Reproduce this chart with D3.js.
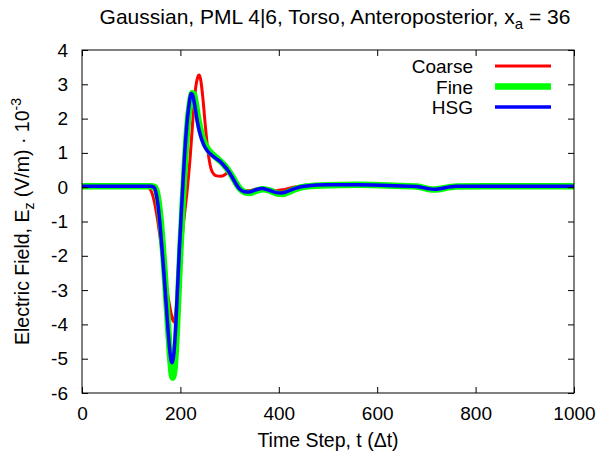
<!DOCTYPE html>
<html>
<head>
<meta charset="utf-8">
<script src="https://cdn.jsdelivr.net/npm/d3@7"></script>
<style>
  body { margin: 0; background: #fff; }
  svg { display: block; }
  text { font-family: "Liberation Sans", Arial, sans-serif; fill: #000; }
</style>
</head>
<body>
<svg width="600" height="456"></svg>
<script>
// time steps (shared by all series) and the three field traces, x 10^-3 V/m
var coarseT = [0, 100, 130, 138, 145, 152, 160, 168, 175, 180, 184, 187, 190, 195, 200, 206, 213, 220, 226, 231, 235, 238, 241, 245, 250, 256, 262, 268, 274, 282, 290, 296, 302, 308, 315, 325, 340, 355, 368, 380, 395, 410, 430, 455, 500, 560, 620, 680, 715, 760, 820, 900, 1000];
var coarseV = [0.02, 0.02, 0.02, -0.05, -0.3, -0.8, -1.6, -2.5, -3.2, -3.6, -3.85, -3.93, -3.7, -3.0, -2.1, -1.1, -0.2, 0.9, 2.1, 2.9, 3.2, 3.27, 3.15, 2.7, 1.9, 1.05, 0.55, 0.38, 0.33, 0.32, 0.36, 0.42, 0.35, 0.2, 0.02, -0.08, -0.1, -0.05, -0.03, -0.07, -0.1, -0.07, 0.0, 0.04, 0.07, 0.07, 0.05, 0.03, -0.05, 0.03, 0.03, 0.03, 0.03];

var fineT = [0, 100, 140, 148, 153, 158, 163, 168, 172, 176, 180, 184, 188, 192, 196, 200, 205, 210, 215, 220, 224, 227, 231, 236, 242, 250, 258, 266, 274, 282, 290, 298, 306, 314, 322, 332, 342, 355, 368, 382, 395, 407, 420, 435, 455, 500, 560, 620, 680, 715, 760, 820, 900, 1000];
var fineV = [0.03, 0.03, 0.03, 0.0, -0.2, -0.7, -1.5, -2.5, -3.4, -4.3, -5.1, -5.55, -5.3, -4.4, -3.1, -1.8, -0.4, 0.9, 1.9, 2.5, 2.74, 2.72, 2.45, 2.0, 1.6, 1.25, 1.07, 0.95, 0.85, 0.75, 0.63, 0.48, 0.3, 0.1, -0.06, -0.15, -0.17, -0.1, -0.06, -0.1, -0.18, -0.2, -0.14, -0.05, 0.02, 0.06, 0.07, 0.05, 0.02, -0.07, 0.02, 0.03, 0.03, 0.03];

var hsgT = [0, 100, 140, 146, 151, 156, 161, 166, 170, 174, 178, 181, 183, 186, 190, 194, 198, 203, 208, 213, 218, 222, 225, 229, 234, 240, 248, 256, 264, 272, 280, 288, 296, 304, 312, 320, 330, 340, 352, 366, 380, 393, 405, 418, 432, 452, 500, 560, 620, 680, 715, 760, 820, 900, 1000];
var hsgV = [0.03, 0.03, 0.03, 0.0, -0.2, -0.7, -1.5, -2.4, -3.2, -4.0, -4.7, -5.05, -5.12, -4.95, -4.2, -3.0, -1.8, -0.45, 0.8, 1.8, 2.45, 2.73, 2.68, 2.4, 1.95, 1.55, 1.22, 1.04, 0.93, 0.84, 0.76, 0.64, 0.5, 0.32, 0.12, -0.05, -0.13, -0.14, -0.08, -0.04, -0.09, -0.15, -0.17, -0.12, -0.04, 0.03, 0.07, 0.07, 0.05, 0.02, -0.06, 0.03, 0.03, 0.03, 0.03];

var xTicks = [0, 200, 400, 600, 800, 1000];
var yTicks = [-6, -5, -4, -3, -2, -1, 0, 1, 2, 3, 4];

var series = [
  { name: "Coarse", t: coarseT, v: coarseV, color: "#ff0000", width: 3 },
  { name: "Fine", t: fineT, v: fineV, color: "#00ff00", width: 6.5 },
  { name: "HSG", t: hsgT, v: hsgV, color: "#0000ff", width: 3.5 }
];

var margin = { left: 82, right: 26, top: 50, bottom: 63 };
var width = 600 - margin.left - margin.right;
var height = 456 - margin.top - margin.bottom;

var svg = d3.select("svg");
var plot = svg.append("g").attr("transform", "translate(" + margin.left + "," + margin.top + ")");

var x = d3.scaleLinear().domain([0, 1000]).range([0, width]);
var y = d3.scaleLinear().domain([-6, 4]).range([height, 0]);

// plain hyphen minus, like gnuplot
var fmt = function(d) { return String(d); };

// clip the traces to the frame
plot.append("clipPath").attr("id", "clip")
  .append("rect").attr("width", width).attr("height", height);

var line = d3.line()
  .x(function(d) { return x(d[0]); })
  .y(function(d) { return y(d[1]); })
  .curve(d3.curveMonotoneX);

var traces = plot.append("g").attr("clip-path", "url(#clip)");
series.forEach(function(s) {
  traces.append("path")
    .datum(d3.zip(s.t, s.v))
    .attr("d", line)
    .attr("fill", "none")
    .attr("stroke", s.color)
    .attr("stroke-width", s.width)
    .attr("stroke-linejoin", "round");
});

// gnuplot-like inward ticks on all four sides
function tickStyle(g) {
  g.select(".domain").remove();
  g.selectAll(".tick line").attr("stroke", "#000").attr("stroke-width", 1);
  g.selectAll(".tick text").attr("font-size", 19).style("font-family", "Liberation Sans, Arial, sans-serif");
}

plot.append("g")
  .attr("transform", "translate(0," + height + ")")
  .call(d3.axisBottom(x).tickValues(xTicks).tickSizeInner(-6).tickPadding(14).tickFormat(fmt))
  .call(tickStyle);
plot.append("g")
  .call(d3.axisTop(x).tickValues(xTicks).tickSizeInner(-6).tickFormat(""))
  .call(tickStyle);
plot.append("g")
  .call(d3.axisLeft(y).tickValues(yTicks).tickSizeInner(-6).tickPadding(14).tickFormat(fmt))
  .call(tickStyle);
plot.append("g")
  .attr("transform", "translate(" + width + ",0)")
  .call(d3.axisRight(y).tickValues(yTicks).tickSizeInner(-6).tickFormat(""))
  .call(tickStyle);

plot.append("rect")
  .attr("width", width).attr("height", height)
  .attr("fill", "none").attr("stroke", "#000").attr("stroke-width", 1);

// legend
var legend = plot.append("g").attr("transform", "translate(0,16)");
series.forEach(function(s, i) {
  var row = legend.append("g").attr("transform", "translate(0," + (i * 20.5) + ")");
  row.append("text")
    .attr("x", 391).attr("y", 7)
    .attr("text-anchor", "end")
    .attr("font-size", 19)
    .text(s.name);
  row.append("line")
    .attr("x1", 413).attr("x2", 469)
    .attr("stroke", s.color)
    .attr("stroke-width", s.width);
});

// title
var title = svg.append("text")
  .attr("x", 335).attr("y", 24)
  .attr("text-anchor", "middle")
  .attr("font-size", 21);
title.append("tspan").text("Gaussian, PML 4|6, Torso, Anteroposterior, x");
title.append("tspan").attr("dy", 5).attr("font-size", 15).text("a");
title.append("tspan").attr("dy", -5).text(" = 36");

// axis labels
svg.append("text")
  .attr("x", margin.left + width / 2).attr("y", 447)
  .attr("text-anchor", "middle")
  .attr("font-size", 19.5)
  .text("Time Step, t (\u0394t)");

var ylab = svg.append("text")
  .attr("transform", "translate(29," + (margin.top + height / 2) + ") rotate(-90)")
  .attr("text-anchor", "middle")
  .attr("font-size", 19.5);
ylab.append("tspan").text("Electric Field, E");
ylab.append("tspan").attr("dy", 5).attr("font-size", 14).text("z");
ylab.append("tspan").attr("dy", -5).text(" (V/m) \u00b7 10");
ylab.append("tspan").attr("dy", -8).attr("font-size", 14).text("-3");
</script>
</body>
</html>
